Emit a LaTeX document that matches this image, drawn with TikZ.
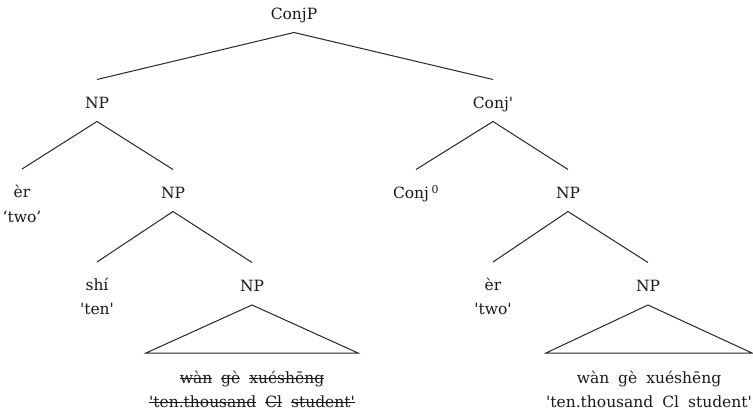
\documentclass[tikz,border=0pt]{standalone}
\usepackage{fontspec}
\setmainfont{DejaVu Serif}
\newsavebox{\strkbox}
% struck-through word: rule across the box at mid x-height
\newcommand{\strk}[1]{\sbox{\strkbox}{#1}\rlap{\rule[0.27em]{\wd\strkbox}{0.75pt}}\usebox{\strkbox}}
\newcommand{\sq}{\textquotesingle}
\newcommand{\gap}{\hspace{9pt}}
\begin{document}
\begin{tikzpicture}[x=1pt,y=-1pt,
    lbl/.style={anchor=base,inner sep=0pt,text=black!90,font=\fontsize{15.5}{18}\selectfont},
    branch/.style={line width=1pt,black!85}]
\useasboundingbox (0,0) rectangle (753,414);

% labels (placed on their baselines)
\node[lbl] (cp)   at (294,19.5)  {ConjP};
\node[lbl] (np1)  at (97,108.5)  {NP};
\node[lbl] (cb)   at (493,108.5) {Conj\sq};
\node[lbl] (er1)  at (22,198)    {èr};
\node[lbl] (two1) at (22,223)    {‘two’};
\node[lbl] (np2)  at (173,198.5) {NP};
\node[lbl] (c0)   at (416,198.5) {Conj\,\textsuperscript{0}};
\node[lbl] (np4)  at (568,198.5) {NP};
\node[lbl] (shi)  at (97,291)    {shí};
\node[lbl] (ten)  at (97,315)    {\sq ten\sq};
\node[lbl] (np3)  at (252,291.5) {NP};
\node[lbl] (er2)  at (493,291)   {èr};
\node[lbl] (two2) at (493,315)   {\sq two\sq};
\node[lbl] (np5)  at (648,291.5) {NP};
\node[lbl] (w1)   at (252,383)   {\strk{wàn}\gap\strk{gè}\gap\strk{xuéshēng}};
\node[lbl] (g1)   at (252,407)   {\strk{\sq ten.thousand}\gap\strk{Cl}\gap\strk{student\sq}};
\node[lbl] (w2)   at (649,383)   {wàn\gap gè\gap xuéshēng};
\node[lbl] (g2)   at (649,407)   {\sq ten.thousand\gap Cl\gap student\sq};

% branches
\foreach \p/\c in {cp/np1, cp/cb, np1/er1, np1/np2, cb/c0, cb/np4,
                   np2/shi, np2/np3, np4/er2, np4/np5}
  \draw[branch] ([yshift=-13pt]\p.base) -- ([yshift=29pt]\c.base);

% triangles
\coordinate (t1l) at (146,353); \coordinate (t1r) at (358,353);
\coordinate (t2l) at (546,353); \coordinate (t2r) at (752,353);
\draw[branch] ([yshift=-13.5pt]np3.base) -- (t1l) -- (t1r) -- cycle;
\draw[branch] ([yshift=-13.5pt]np5.base) -- (t2l) -- (t2r) -- cycle;
\end{tikzpicture}
\end{document}
